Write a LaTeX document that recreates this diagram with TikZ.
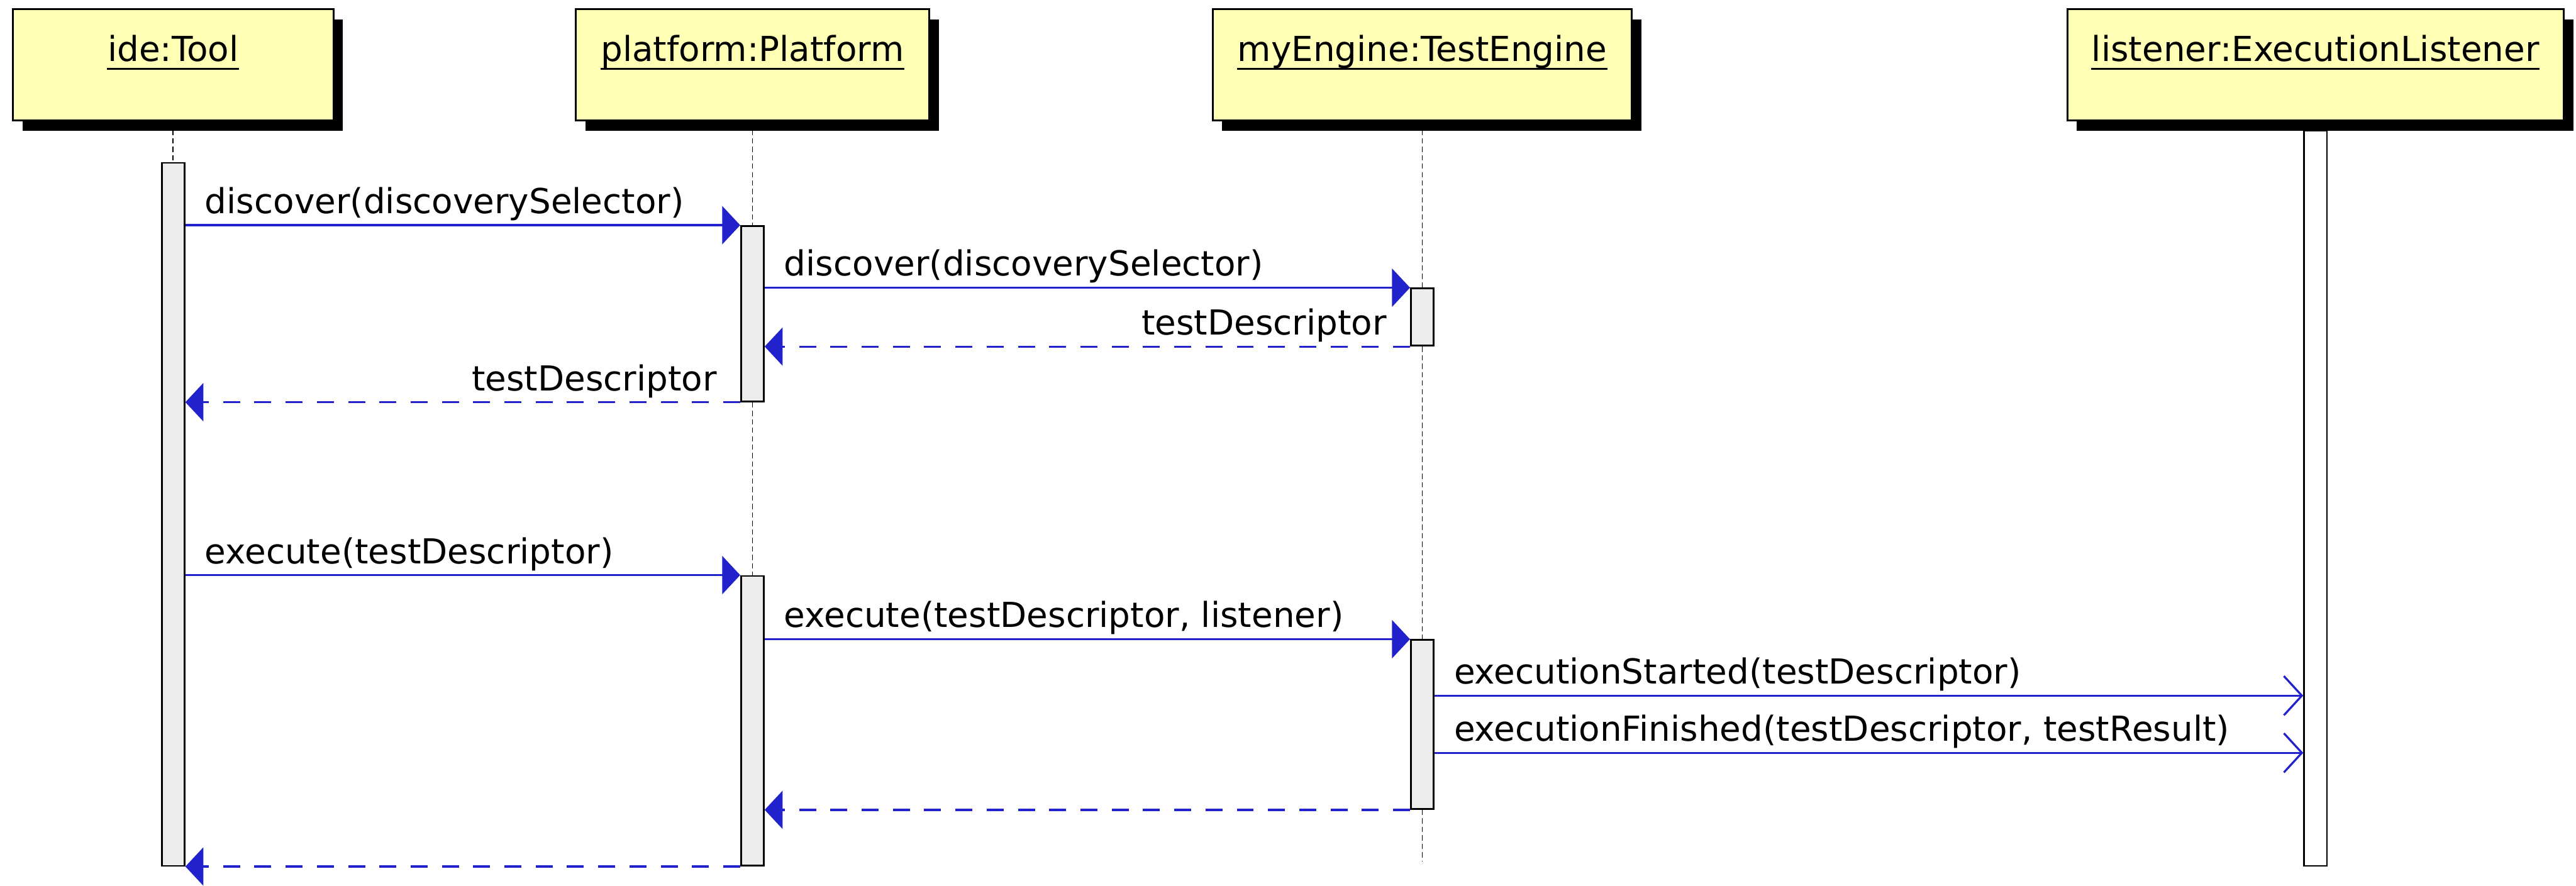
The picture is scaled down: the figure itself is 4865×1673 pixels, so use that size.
\documentclass[tikz,border=0pt]{standalone}
\usepackage{fontspec}
\setmainfont{DejaVu Sans}
\usetikzlibrary{arrows.meta,shadows}

\definecolor{msgblue}{RGB}{34,34,204}
\definecolor{headyellow}{RGB}{255,255,181}
\definecolor{actgray}{RGB}{236,236,236}

\begin{document}
\begin{tikzpicture}[
        x=0.01cm, y=-0.01cm,
        every node/.style={font=\fontsize{18.5}{22}\selectfont},
        head/.style={rectangle, draw=black, line width=1pt, fill=headyellow, minimum height=2.1cm,
            drop shadow={shadow xshift=0.18cm, shadow yshift=-0.2cm, fill=black, opacity=1}},
        headlbl/.style={anchor=base, inner sep=0pt},
        act/.style={rectangle, draw=black, line width=0.9pt, fill=actgray, minimum width=0.43cm, inner sep=0pt},
        lifeline/.style={draw=black, line width=0.6pt, dash pattern=on 0.1cm off 0.06cm},
        msg/.style={draw=msgblue, line width=1.1pt, -{Triangle[length=0.34cm, width=0.72cm]}, color=msgblue},
        notify/.style={draw=msgblue, line width=1.1pt, -{Straight Barb[length=0.34cm, width=0.74cm, line width=1.1pt]}, color=msgblue},
        ret/.style={msg, dash pattern=on 0.32cm off 0.27cm},
        call/.style={anchor=base west, inner sep=0pt, xshift=0.35cm, yshift=0.22cm, text=black},
        reply/.style={anchor=base east, inner sep=0pt, xshift=-0.42cm, yshift=0.22cm, text=black}
    ]
    \useasboundingbox (0,0) rectangle (4865,1673);

    % participants
    \node[head, minimum width=6.05cm] (ide) at (327,122) {};
    \node[head, minimum width=6.67cm] (plat) at (1421,122) {};
    \node[head, minimum width=7.91cm] (eng) at (2686,122) {};
    \node[head, minimum width=9.37cm] (lis) at (4373,122) {};

    \node[headlbl] (idelbl) at ([yshift=-1cm]ide.north) {ide:Tool};
    \node[headlbl] (platlbl) at ([yshift=-1cm]plat.north) {platform:Platform};
    \node[headlbl] (englbl) at ([yshift=-1cm]eng.north) {myEngine:TestEngine};
    \node[headlbl] (lislbl) at ([yshift=-1cm]lis.north) {listener:ExecutionListener};
    \foreach \n in {idelbl, platlbl, englbl, lislbl}
        \draw[line width=1.2pt] ([yshift=-0.15cm]\n.base west) -- ([yshift=-0.15cm]\n.base east);

    % activations
    \node[act, minimum height=13.27cm] (ideact) at (327,971.5) {};
    \node[act, minimum height=3.31cm] (platact1) at (1421,592.5) {};
    \node[act, minimum height=5.47cm] (platact2) at (1421,1361.5) {};
    \node[act, minimum height=1.08cm] (engact1) at (2686,599) {};
    \node[act, minimum height=3.19cm] (engact2) at (2686,1368.5) {};
    \node[act, fill=white, minimum height=13.88cm] (lisact) at (4373,941) {};
    \coordinate (engend) at (2686,1627);

    % lifelines
    \draw[lifeline] (ide.south) -- (ideact.north);
    \draw[lifeline] (plat.south) -- (platact1.north);
    \draw[lifeline] (platact1.south) -- (platact2.north);
    \draw[lifeline] (eng.south) -- (engact1.north);
    \draw[lifeline] (engact1.south) -- (engact2.north);
    \draw[lifeline] (engact2.south) -- (engend);

    % discovery
    \draw[msg] (ideact.east |- platact1.north) node[call] {discover(discoverySelector)} -- (platact1.north west);
    \draw[msg] (platact1.east |- engact1.north) node[call] {discover(discoverySelector)} -- (engact1.north west);
    \draw[ret] (engact1.south west) node[reply] {testDescriptor} -- (platact1.east |- engact1.south);
    \draw[ret] (platact1.south west) node[reply] {testDescriptor} -- (ideact.east |- platact1.south);

    % execution
    \draw[msg] (ideact.east |- platact2.north) node[call] {execute(testDescriptor)} -- (platact2.north west);
    \draw[msg] (platact2.east |- engact2.north) node[call] {execute(testDescriptor, listener)} -- (engact2.north west);
    \draw[notify] (engact2.east |- 0,1314) node[call] {executionStarted(testDescriptor)} -- (lisact.west |- 0,1314);
    \draw[notify] (engact2.east |- 0,1422) node[call] {executionFinished(testDescriptor, testResult)} -- (lisact.west |- 0,1422);
    \draw[ret] (engact2.south west) -- (platact2.east |- engact2.south);
    \draw[ret] (platact2.south west) -- (ideact.east |- platact2.south);

\end{tikzpicture}
\end{document}
